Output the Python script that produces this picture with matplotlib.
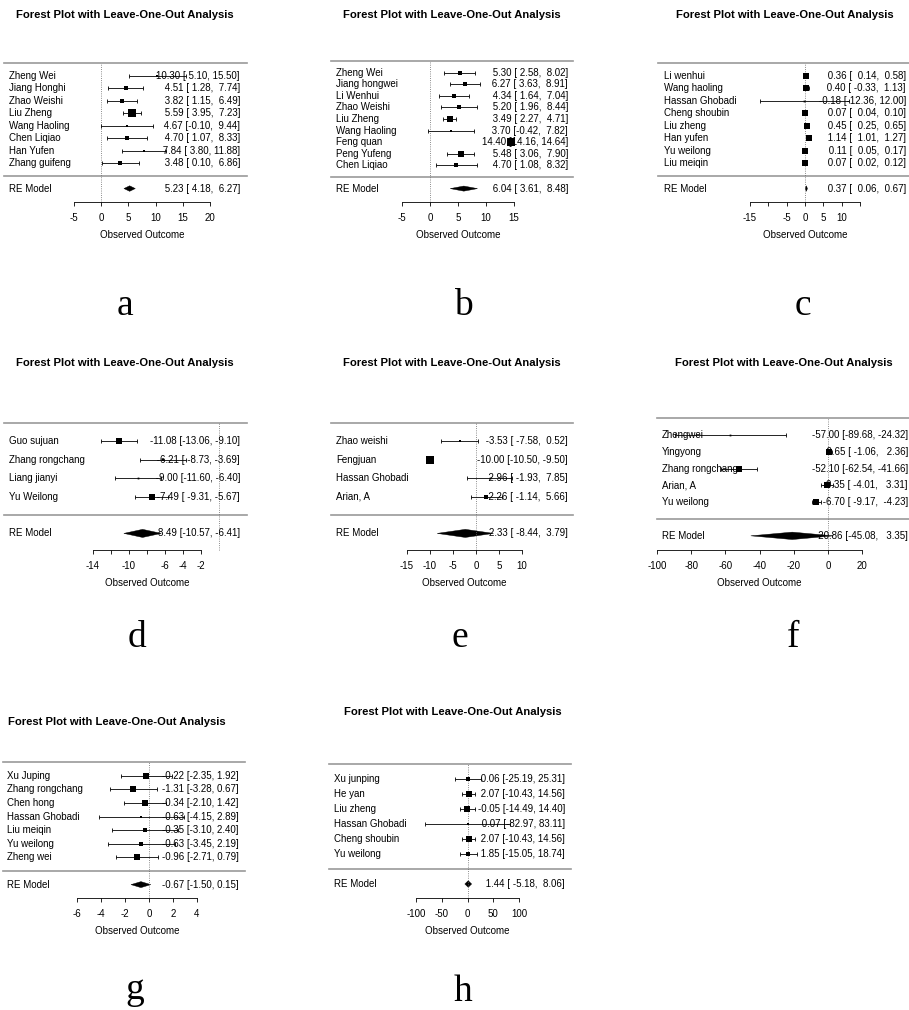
import matplotlib
matplotlib.use('Agg')
import numpy as np
import matplotlib.pyplot as plt
from matplotlib.patches import Polygon

plt.rcParams['font.family'] = ['Liberation Sans', 'DejaVu Sans']
plt.rcParams['axes.unicode_minus'] = False

W, H = 909, 1010
TITLE = 'Forest Plot with Leave-One-Out Analysis'

# ---- data ----
names_a = ['Zheng Wei', 'Jiang Honghi', 'Zhao Weishi', 'Liu Zheng', 'Wang Haoling',
           'Chen Liqiao', 'Han Yufen', 'Zhang guifeng']
est_a = [10.30, 4.51, 3.82, 5.59, 4.67, 4.70, 7.84, 3.48]
lo_a = [5.10, 1.28, 1.15, 3.95, -0.10, 1.07, 3.80, 0.10]
hi_a = [15.50, 7.74, 6.49, 7.23, 9.44, 8.33, 11.88, 6.86]
wts_a = [2, 3.5, 4, 6, 2.5, 3, 2.5, 3]
re_a = [5.23, 4.18, 6.27]
ticks_a = [-5, 0, 5, 10, 15, 20]

names_b = ['Zheng Wei', 'Jiang hongwei', 'Li Wenhui', 'Zhao Weishi', 'Liu Zheng',
           'Wang Haoling', 'Feng quan', 'Peng Yufeng', 'Chen Liqiao']
est_b = [5.30, 6.27, 4.34, 5.20, 3.49, 3.70, 14.40, 5.48, 4.70]
lo_b = [2.58, 3.63, 1.64, 1.96, 2.27, -0.42, 14.16, 3.06, 1.08]
hi_b = [8.02, 8.91, 7.04, 8.44, 4.71, 7.82, 14.64, 7.90, 8.32]
wts_b = [4, 4, 4, 3.5, 5.5, 2, 6, 4.5, 3]
re_b = [6.04, 3.61, 8.48]
ticks_b = [-5, 0, 5, 10, 15]

names_c = ['Li wenhui', 'Wang haoling', 'Hassan Ghobadi', 'Cheng shoubin', 'Liu zheng',
           'Han yufen', 'Yu weilong', 'Liu meiqin']
est_c = [0.36, 0.40, -0.18, 0.07, 0.45, 1.14, 0.11, 0.07]
lo_c = [0.14, -0.33, -12.36, 0.04, 0.25, 1.01, 0.05, 0.02]
hi_c = [0.58, 1.13, 12.00, 0.10, 0.65, 1.27, 0.17, 0.12]
wts_c = [5, 5, 1.5, 5, 5, 5.5, 5, 5]
re_c = [0.37, 0.06, 0.67]
ticks_c = [-15, -10, -5, 0, 5, 10, 15]
labels_c = ['-15', '', '-5', '0', '5', '10', '']

names_d = ['Guo sujuan', 'Zhang rongchang', 'Liang jianyi', 'Yu Weilong']
est_d = [-11.08, -6.21, -9.00, -7.49]
lo_d = [-13.06, -8.73, -11.60, -9.31]
hi_d = [-9.10, -3.69, -6.40, -5.67]
wts_d = [4.5, 2, 1.5, 5]
re_d = [-8.49, -10.57, -6.41]
ticks_d = [-14, -12, -10, -8, -6, -4, -2]
labels_d = ['-14', '', '-10', '', '-6', '-4', '-2']

names_e = ['Zhao weishi', 'Fengjuan', 'Hassan Ghobadi', 'Arian, A']
est_e = [-3.53, -10.00, 2.96, 2.26]
lo_e = [-7.58, -10.50, -1.93, -1.14]
hi_e = [0.52, -9.50, 7.85, 5.66]
wts_e = [2.5, 6, 1.5, 3.5]
re_e = [-2.33, -8.44, 3.79]
ticks_e = [-15, -10, -5, 0, 5, 10]

names_f = ['Zhengwei', 'Yingyong', 'Zhang rongchang', 'Arian, A', 'Yu weilong']
est_f = [-57.00, 0.65, -52.10, -0.35, -6.70]
lo_f = [-89.68, -1.06, -62.54, -4.01, -9.17]
hi_f = [-24.32, 2.36, -41.66, 3.31, -4.23]
wts_f = [1.5, 5, 5, 4.5, 5.5]
re_f = [-20.86, -45.08, 3.35]
ticks_f = [-100, -80, -60, -40, -20, 0, 20]

names_g = ['Xu Juping', 'Zhang rongchang', 'Chen hong', 'Hassan Ghobadi', 'Liu meiqin',
           'Yu weilong', 'Zheng wei']
est_g = [-0.22, -1.31, -0.34, -0.63, -0.35, -0.63, -0.96]
lo_g = [-2.35, -3.28, -2.10, -4.15, -3.10, -3.45, -2.71]
hi_g = [1.92, 0.67, 1.42, 2.89, 2.40, 2.19, 0.79]
wts_g = [4.5, 5, 5.5, 2, 3, 3, 5.5]
re_g = [-0.67, -1.50, 0.15]
ticks_g = [-6, -4, -2, 0, 2, 4]

names_h = ['Xu junping', 'He yan', 'Liu zheng', 'Hassan Ghobadi', 'Cheng shoubin', 'Yu weilong']
est_h = [0.06, 2.07, -0.05, 0.07, 2.07, 1.85]
lo_h = [-25.19, -10.43, -14.49, -82.97, -10.43, -15.05]
hi_h = [25.31, 14.56, 14.40, 83.11, 14.56, 18.74]
wts_h = [3, 5, 5, 2, 5, 4]
re_h = [1.44, -5.18, 8.06]
ticks_h = [-100, -50, 0, 50, 100]


def fmt_rows(est, lo, hi, re):
    e = [f'{v:.2f}' for v in list(est) + [re[0]]]
    l = [f'{v:.2f}' for v in list(lo) + [re[1]]]
    h = [f'{v:.2f}' for v in list(hi) + [re[2]]]
    we, wl, wh = max(map(len, e)), max(map(len, l)), max(map(len, h))
    return [f'{a.rjust(we)} [{b.rjust(wl)}, {c.rjust(wh)}]' for a, b, c in zip(e, l, h)]


def draw_panel(fig, g, names, est, lo, hi, wts, re, ticks, ticklabels=None):
    k = len(names)
    L, R = g['rule']
    T, B, A = g['rows']
    (t1, p1), (t2, p2) = g['map']
    s = (p2 - p1) / (t2 - t1)
    tox = lambda px: t1 + (px - p1) / s
    pxrow = (B - T) / (k + 1)
    ybot = -(A - B) / pxrow

    ax = fig.add_axes([L / W, 1 - A / H, (R - L) / W, (A - T) / H])
    ax.set_xlim(tox(L), tox(R))
    ax.set_ylim(ybot, k + 1)
    ax.patch.set_visible(False)
    for sp in ['top', 'left', 'right']:
        ax.spines[sp].set_visible(False)
    ax.spines['bottom'].set_bounds(ticks[0], ticks[-1])
    ax.spines['bottom'].set_linewidth(0.6)
    ax.set_yticks([])
    ax.set_xticks(ticks)
    ax.set_xticklabels(ticklabels if ticklabels else [str(t) for t in ticks])
    ax.tick_params(axis='x', length=3, width=0.6, pad=5, labelsize=7, direction='out')

    ys = np.arange(k, 0, -1)
    ax.axhline(k + 1, color='#999999', lw=1.2, clip_on=False)
    ax.axhline(0, color='#999999', lw=1.2, clip_on=False)
    ax.plot([0, 0], [ybot, k + 1], ls=':', color='#666666', lw=0.6, clip_on=False)

    est = np.array(est)
    ax.errorbar(est, ys, xerr=[est - np.array(lo), np.array(hi) - est], fmt='none',
                ecolor='black', elinewidth=0.6, capsize=1.5, capthick=0.6, clip_on=False)
    for e, y, w in zip(est, ys, wts):
        ax.plot(e, y, 's', ms=w * 0.85, color='black', mew=0, clip_on=False)

    dh = 0.22
    ax.add_patch(Polygon([(re[1], -1), (re[0], -1 + dh), (re[2], -1), (re[0], -1 - dh)],
                         closed=True, color='black', lw=0.3, clip_on=False))

    labels = fmt_rows(est, lo, hi, re)
    xn, xv = tox(g['text'][0]), tox(g['text'][1])
    for y, n, v in zip(list(ys) + [-1], list(names) + ['RE Model'], labels):
        ax.text(xn, y, n, ha='left', va='center', fontsize=7, clip_on=False)
        ax.text(xv, y, v, ha='right', va='center', fontsize=7, clip_on=False)

    ax.annotate('Observed Outcome', xy=((ticks[0] + ticks[-1]) / 2, ybot), xycoords='data',
                xytext=(0, -33 * 0.72), textcoords='offset points', ha='center', va='center',
                fontsize=7, annotation_clip=False)

    fig.text(g['title'][0] / W, 1 - g['title'][1] / H, TITLE, ha='center', va='center',
             fontsize=8.1, fontweight='bold')
    fig.text(g['letter'][0] / W, 1 - g['letter'][1] / H, g['tag'], ha='center', va='baseline',
             fontsize=27, family=['Liberation Serif', 'DejaVu Serif'])


# pixel layout of each panel
layout = {
    'a': dict(rule=(4, 247), rows=(63, 176, 202), map=((-5, 74), (20, 210)),
              text=(9, 240), title=(125, 15), letter=(125, 315)),
    'b': dict(rule=(331, 573), rows=(61, 177, 202), map=((-5, 402), (15, 514)),
              text=(336, 568), title=(452, 15), letter=(463, 315)),
    'c': dict(rule=(658, 909), rows=(63, 176, 202), map=((-15, 750), (15, 860)),
              text=(664, 906), title=(785, 15), letter=(803, 315)),
    'd': dict(rule=(4, 247), rows=(423, 515, 550), map=((-14, 93), (-2, 201)),
              text=(9, 240), title=(125, 363), letter=(137, 647)),
    'e': dict(rule=(331, 573), rows=(423, 515, 550), map=((-15, 407), (10, 522)),
              text=(336, 568), title=(452, 363), letter=(460, 647)),
    'f': dict(rule=(657, 909), rows=(418, 519, 550), map=((-100, 657), (20, 862)),
              text=(662, 908), title=(784, 363), letter=(793, 647)),
    'g': dict(rule=(3, 245), rows=(762, 871, 898), map=((-6, 77), (4, 197)),
              text=(7, 239), title=(117, 722), letter=(135, 999)),
    'h': dict(rule=(329, 571), rows=(764, 869, 898), map=((-100, 416), (100, 519)),
              text=(334, 565), title=(453, 712), letter=(463, 1001)),
}
for tag in layout:
    layout[tag]['tag'] = tag

fig = plt.figure(figsize=(W / 100, H / 100), dpi=100)
fig.patch.set_facecolor('white')

draw_panel(fig, layout['a'], names_a, est_a, lo_a, hi_a, wts_a, re_a, ticks_a)
draw_panel(fig, layout['b'], names_b, est_b, lo_b, hi_b, wts_b, re_b, ticks_b)
draw_panel(fig, layout['c'], names_c, est_c, lo_c, hi_c, wts_c, re_c, ticks_c, labels_c)
draw_panel(fig, layout['d'], names_d, est_d, lo_d, hi_d, wts_d, re_d, ticks_d, labels_d)
draw_panel(fig, layout['e'], names_e, est_e, lo_e, hi_e, wts_e, re_e, ticks_e)
draw_panel(fig, layout['f'], names_f, est_f, lo_f, hi_f, wts_f, re_f, ticks_f)
draw_panel(fig, layout['g'], names_g, est_g, lo_g, hi_g, wts_g, re_g, ticks_g)
draw_panel(fig, layout['h'], names_h, est_h, lo_h, hi_h, wts_h, re_h, ticks_h)

fig.savefig('out.png', dpi=100)
